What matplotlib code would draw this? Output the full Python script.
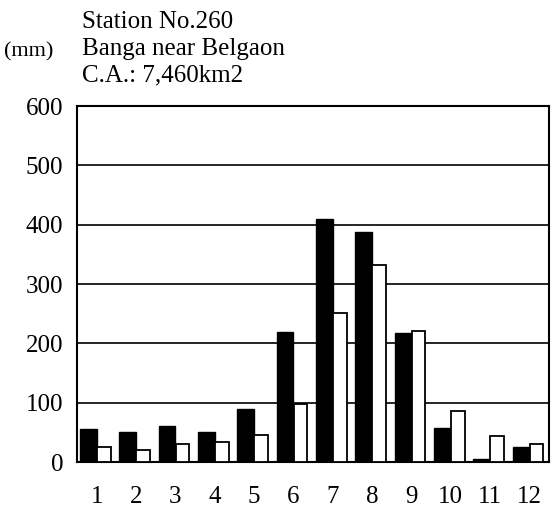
import matplotlib
matplotlib.use('Agg')
from matplotlib import pyplot as plt
import numpy as np

plt.rcParams['font.family'] = ['Liberation Serif', 'DejaVu Serif']

meses = ['1', '2', '3', '4', '5', '6', '7', '8', '9', '10', '11', '12']
preto = [56, 51, 61, 51, 90, 219, 409, 388, 217, 57, 5, 26]  # barras pretas
branco = [26, 21, 30, 34, 45, 97, 251, 332, 221, 86, 43, 31]  # barras brancas
yticks = [0, 100, 200, 300, 400, 500, 600]

fig = plt.figure(figsize=(5.54, 5.11), dpi=100)
ax = fig.add_axes([77 / 554, 49 / 511, 472 / 554, 356 / 511])

x = np.arange(len(meses))
ax.bar(x - 0.42, preto, width=0.42, align='edge', color='black', edgecolor='black', linewidth=1, zorder=3)
ax.bar(x + 0.01, branco, width=0.35, align='edge', color='white', edgecolor='black', linewidth=1.3, zorder=3)

ax.set_xlim(-0.5, 11.5)
ax.set_ylim(0, 600)
ax.set_yticks(yticks)
ax.set_xticks(x)
ax.set_xticklabels(meses)
ax.tick_params(length=0, labelsize=18)
ax.tick_params(axis='y', pad=10)
ax.tick_params(axis='x', pad=17)
ax.yaxis.grid(True, color='black', linewidth=1.2)
ax.set_axisbelow(True)
for s in ax.spines.values():
    s.set_linewidth(1.5)

# cabeçalho
fig.text(82 / 554, 1 - 22 / 511, 'Station No.260', fontsize=18, ha='left', va='center')
fig.text(82 / 554, 1 - 49 / 511, 'Banga near Belgaon', fontsize=18, ha='left', va='center')
fig.text(82 / 554, 1 - 75 / 511, 'C.A.: 7,460km2', fontsize=18, ha='left', va='center')
fig.text(4 / 554, 1 - 52 / 511, '(mm)', fontsize=16, ha='left', va='center')

fig.savefig('out.png', dpi=100)
